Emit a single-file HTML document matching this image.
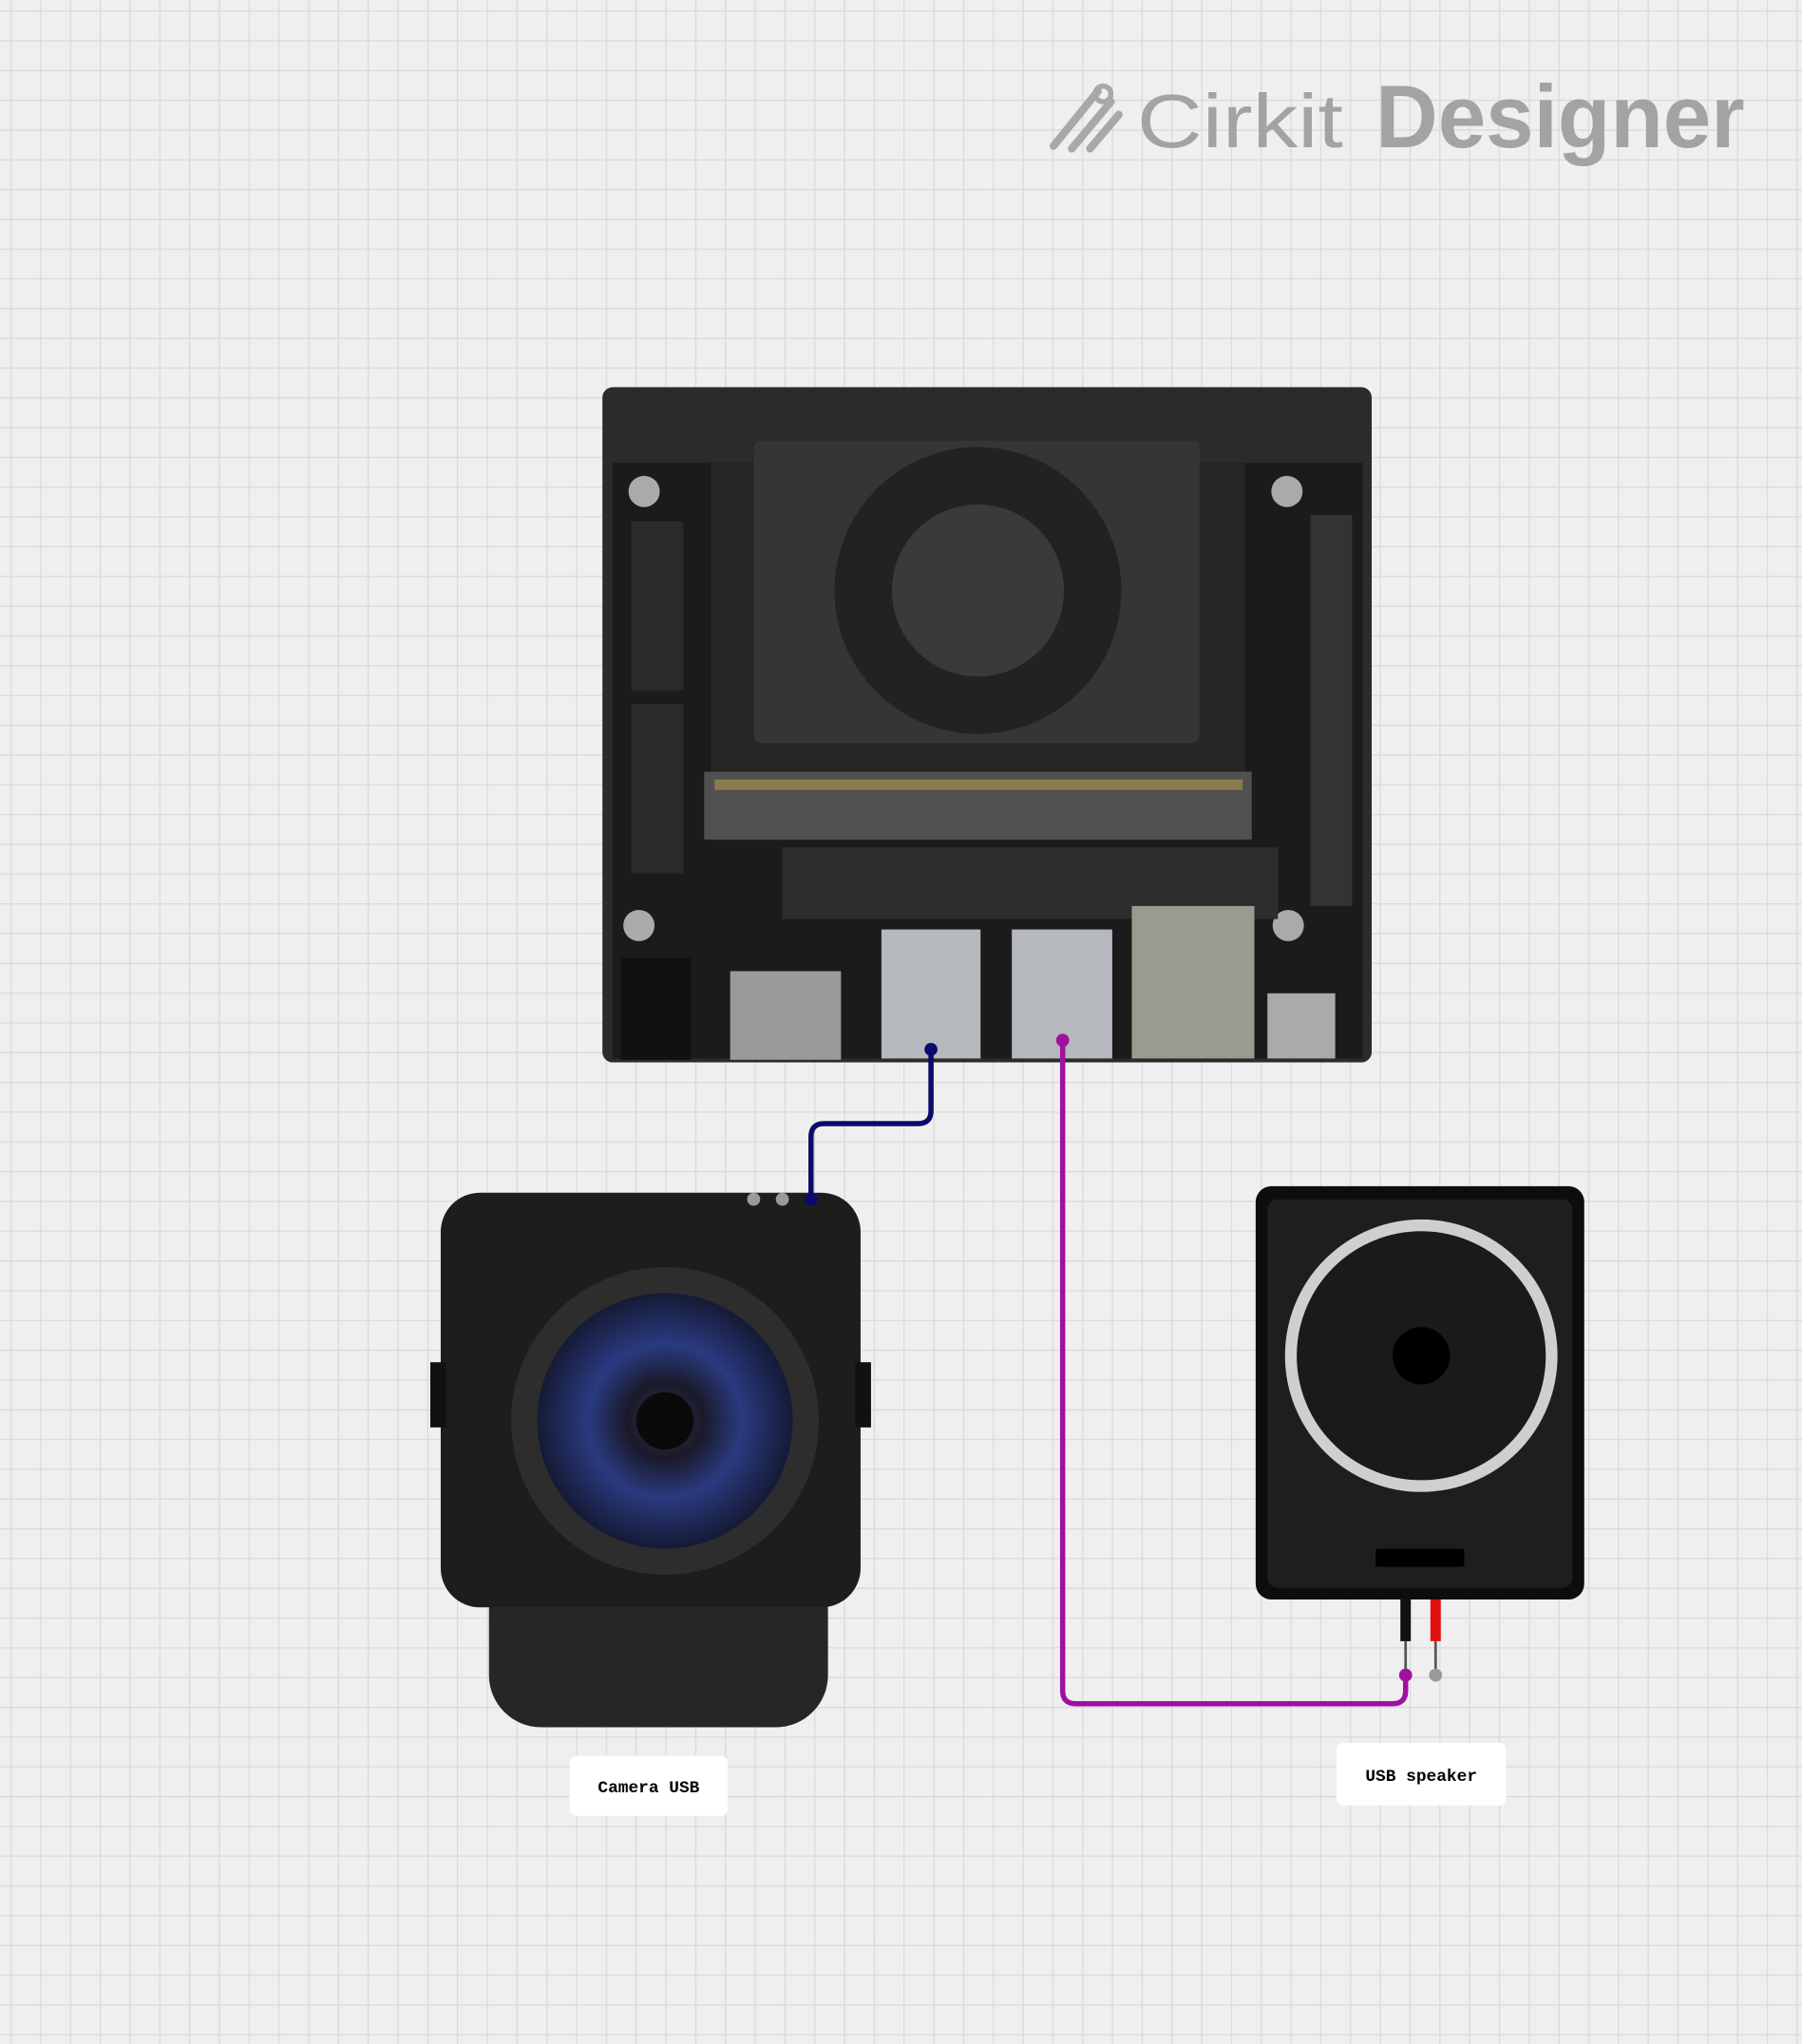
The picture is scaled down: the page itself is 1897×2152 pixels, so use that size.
<!DOCTYPE html>
<html><head><meta charset="utf-8"><style>html,body{margin:0;padding:0;background:#efefef}svg{display:block}</style></head>
<body>
<svg width="1897" height="2152" viewBox="0 0 1382 1568" preserveAspectRatio="none" xmlns="http://www.w3.org/2000/svg">
<defs>
<pattern id="g" x="8" y="8" width="22.83" height="22.83" patternUnits="userSpaceOnUse">
<path d="M0 0H22.83M0 0V22.83" stroke="#d9d9d9" stroke-width="1.8" fill="none"/>
</pattern>
<radialGradient id="lens" cx="50%" cy="50%" r="50%"><stop offset="0" stop-color="#3a3050"/><stop offset="0.3" stop-color="#1a1a2a"/><stop offset="0.6" stop-color="#2a3a80"/><stop offset="1" stop-color="#151a35"/></radialGradient>
</defs>
<rect width="1382" height="1568" fill="#efefef"/>
<rect width="1382" height="1568" fill="url(#g)"/>
<!-- logo -->
<g stroke="#a8a8a8" stroke-width="6" stroke-linecap="round" fill="none">
<line x1="808" y1="112" x2="842" y2="70"/><line x1="822" y1="114" x2="852" y2="78"/><line x1="836" y1="114" x2="858" y2="88"/>
</g>
<circle cx="846" cy="72" r="6" fill="none" stroke="#a8a8a8" stroke-width="4"/>
<text x="872" y="113" font-family="Liberation Sans, sans-serif" font-size="58" fill="#a3a3a3" textLength="158" lengthAdjust="spacingAndGlyphs">Cirkit</text>
<text x="1055" y="113" font-family="Liberation Sans, sans-serif" font-size="68" font-weight="bold" fill="#a3a3a3" textLength="283" lengthAdjust="spacingAndGlyphs">Designer</text>
<!-- board -->
<rect x="462" y="297" width="590" height="518" rx="8" fill="#2b2b2b"/>
<rect x="470" y="355" width="575" height="457" fill="#1b1b1b"/>
<rect x="484" y="400" width="40" height="130" fill="#2a2a2a"/><rect x="484" y="540" width="40" height="130" fill="#2a2a2a"/>
<rect x="1005" y="395" width="32" height="300" fill="#333"/>
<rect x="545" y="355" width="410" height="290" fill="#262626"/>
<rect x="578" y="338" width="342" height="232" rx="6" fill="#353535"/>
<circle cx="750" cy="453" r="110" fill="#222"/>
<circle cx="750" cy="453" r="66" fill="#3a3a3a"/>
<rect x="540" y="592" width="420" height="52" fill="#505050"/>
<rect x="548" y="598" width="405" height="8" fill="#8a7a50"/>
<circle cx="494" cy="377" r="12" fill="#aaa"/><circle cx="987" cy="377" r="12" fill="#aaa"/>
<circle cx="490" cy="710" r="12" fill="#aaa"/><circle cx="988" cy="710" r="12" fill="#aaa"/>
<rect x="600" y="650" width="380" height="55" fill="#2c2c2c"/>
<rect x="476" y="735" width="54" height="78" fill="#111"/>
<rect x="560" y="745" width="85" height="68" fill="#9a9a9a"/>
<rect x="676" y="713" width="76" height="99" fill="#b5b8bc"/>
<rect x="776" y="713" width="77" height="99" fill="#b5b8bc"/>
<rect x="868" y="695" width="94" height="117" fill="#9a9a90"/>
<rect x="972" y="762" width="52" height="50" fill="#aaa"/>
<!-- camera -->
<rect x="375" y="1195" width="260" height="130" rx="40" fill="#262626"/>
<rect x="338" y="915" width="322" height="318" rx="30" fill="#1d1d1d"/>
<rect x="330" y="1045" width="12" height="50" fill="#111"/><rect x="656" y="1045" width="12" height="50" fill="#111"/>
<circle cx="510" cy="1090" r="118" fill="#2d2d2d"/>
<circle cx="510" cy="1090" r="98" fill="url(#lens)"/>
<circle cx="510" cy="1090" r="22" fill="#0a0a0a"/>
<circle cx="578" cy="920" r="5" fill="#999"/><circle cx="600" cy="920" r="5" fill="#999"/>
<!-- speaker -->
<rect x="963" y="910" width="252" height="317" rx="12" fill="#0d0d0d"/>
<rect x="972" y="920" width="234" height="298" rx="8" fill="#1e1e1e"/>
<circle cx="1090" cy="1040" r="100" fill="#1a1a1a" stroke="#cfcfcf" stroke-width="9"/>
<circle cx="1090" cy="1040" r="22" fill="#000"/>
<rect x="1055" y="1188" width="68" height="14" rx="2" fill="#000"/>
<rect x="1074" y="1227" width="8" height="32" fill="#111"/>
<rect x="1097" y="1227" width="8" height="32" fill="#e01010"/>
<line x1="1078" y1="1259" x2="1078" y2="1285" stroke="#555" stroke-width="2"/>
<line x1="1101" y1="1259" x2="1101" y2="1285" stroke="#555" stroke-width="2"/>
<circle cx="1101" cy="1285" r="5" fill="#999"/>
<!-- wires -->
<path d="M714 805V852Q714 862 704 862H632Q622 862 622 872V920" fill="none" stroke="#0b0b6a" stroke-width="4"/>
<circle cx="714" cy="805" r="5" fill="#0b0b6a"/><circle cx="622" cy="920" r="5" fill="#0b0b6a"/>
<path d="M815 798V1297Q815 1307 825 1307H1068Q1078 1307 1078 1297V1285" fill="none" stroke="#a0109f" stroke-width="4"/>
<circle cx="815" cy="798" r="5" fill="#a0109f"/><circle cx="1078" cy="1285" r="5" fill="#a0109f"/>
<!-- labels -->
<rect x="437" y="1347" width="121" height="46" rx="5" fill="#fff"/>
<text x="497.5" y="1375" text-anchor="middle" font-family="Liberation Mono, monospace" font-size="13" font-weight="bold" fill="#000">Camera USB</text>
<rect x="1025" y="1337" width="130" height="48" rx="5" fill="#fff"/>
<text x="1090" y="1366" text-anchor="middle" font-family="Liberation Mono, monospace" font-size="13" font-weight="bold" fill="#000">USB speaker</text>
</svg>
</body></html>
